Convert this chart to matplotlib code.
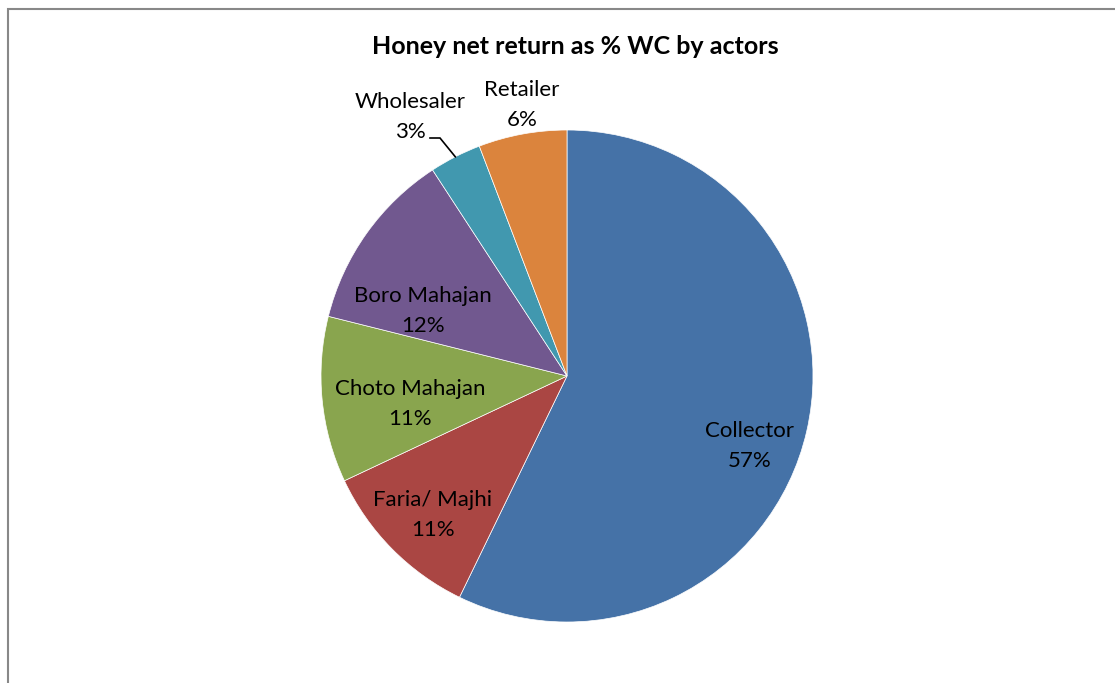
import numpy as np
import matplotlib.pyplot as plt
from matplotlib.patches import Rectangle

plt.rcParams['font.family'] = ['Lato', 'DejaVu Sans']

# share of net return on working capital, clockwise from 12 o'clock
actors = ['Collector', 'Faria/ Majhi', 'Choto Mahajan', 'Boro Mahajan', 'Wholesaler', 'Retailer']
shares = [57.2, 10.8, 10.9, 11.9, 3.4, 5.8]
colors = ['#4572A7', '#AA4643', '#89A54E', '#71588F', '#4198AF', '#DB843D']

# label anchors in pixels (x, y from top)
label_pos = [(750, 446), (433, 515), (410, 404), (423, 311), (410, 117), (522, 105)]

W, H = 1115, 683
cx, cy, R = 567, H - 376, 246

fig = plt.figure(figsize=(W / 100, H / 100), dpi=100)
ax = fig.add_axes([0, 0, 1, 1])
wedges, _ = ax.pie(shares, colors=colors, startangle=90, counterclock=False,
                   center=(cx, cy), radius=R,
                   wedgeprops=dict(edgecolor='white', linewidth=0.5))
ax.set_xlim(0, W)
ax.set_ylim(0, H)
ax.set_aspect('equal')
ax.axis('off')

for name, val, (lx, ly) in zip(actors, shares, label_pos):
    ax.text(lx, H - ly, f'{name}\n{val:.0f}%', ha='center', va='center',
            fontsize=16, linespacing=1.6, color='black')

# leader line for the thin Wholesaler slice
w = wedges[4]
mid = np.deg2rad((w.theta1 + w.theta2) / 2)
ex, ey = cx + R * np.cos(mid), cy + R * np.sin(mid)
ax.plot([430, 440, ex], [H - 138, H - 138, ey], color='black', lw=1.2,
        solid_joinstyle='miter')

fig.text(575 / W, 1 - 47 / H, 'Honey net return as % WC by actors',
         ha='center', va='center', fontsize=18, fontweight='bold')

# chart-area border (runs off the right and bottom edge)
fig.patches.append(Rectangle((8 / W, -0.1), 1.2, 1 - 9 / H + 0.1,
                             transform=fig.transFigure, fill=False,
                             edgecolor='#888888', linewidth=1.5))

fig.savefig('out.png', dpi=100, facecolor='white')
